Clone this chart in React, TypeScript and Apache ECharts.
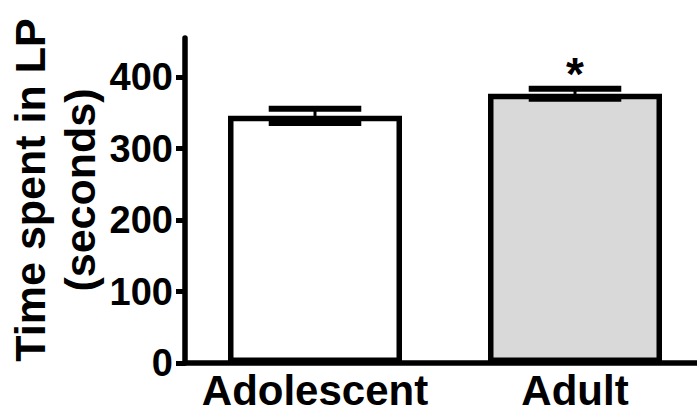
import React, { useEffect, useRef } from "react";
import * as echarts from "echarts";

const categories = ["Adolescent", "Adult"];
const means = [346, 377];
const sems = [10, 7];
const annotations = ["", "*"];
const barColors = ["#ffffff", "#d9d9d9"];
const yTicks = [0, 100, 200, 300, 400];
const yMax = 455;
const yTitle = "Time spent in LP\n(seconds)";

const FONT = "'Liberation Sans', Arial, Helvetica, sans-serif";

export default function App() {
  const ref = useRef<HTMLDivElement>(null);
  useEffect(() => {
    if (!ref.current) return;
    const chart = echarts.init(ref.current, null, { renderer: "svg" });
    const errData = categories.map((_, i) => [i, means[i] - sems[i], means[i] + sems[i]]);
    chart.setOption({
      animation: false,
      backgroundColor: "#ffffff",
      grid: { left: 185, right: 15, top: 38, bottom: 50, containLabel: false },
      xAxis: {
        type: "category",
        data: categories,
        axisLine: { show: true, lineStyle: { color: "#000", width: 5.5 } },
        axisTick: { show: false },
        axisLabel: {
          interval: 0,
          color: "#000",
          fontFamily: FONT,
          fontWeight: "bold",
          fontSize: 42,
          margin: 6,
        },
      },
      yAxis: {
        type: "value",
        min: 0,
        max: yMax,
        interval: 100,
        splitLine: { show: false },
        axisLine: { show: true, lineStyle: { color: "#000", width: 5.5 } },
        axisTick: {
          show: true,
          length: 9,
          lineStyle: { color: "#000", width: 5 },
          customValues: yTicks,
        },
        axisLabel: {
          color: "#000",
          fontFamily: FONT,
          fontWeight: "bold",
          fontSize: 38,
          margin: 12,
          customValues: yTicks,
        },
      },
      graphic: [
        {
          type: "text",
          x: 55,
          y: 190,
          rotation: Math.PI / 2,
          style: {
            text: yTitle,
            align: "center",
            verticalAlign: "middle",
            fontFamily: FONT,
            fontWeight: "bold",
            fontSize: 43,
            lineHeight: 50,
            fill: "#000",
          },
        },
      ],
      series: [
        {
          type: "bar",
          barWidth: 174,
          data: means.map((v, i) => ({
            value: v,
            itemStyle: { color: barColors[i] },
          })),
          itemStyle: { borderColor: "#000", borderWidth: 5.5 },
          z: 2,
        },
        {
          type: "custom",
          z: 3,
          data: errData,
          renderItem: (params: any, api: any) => {
            const idx = api.value(0);
            const lo = api.coord([idx, api.value(1)]);
            const hi = api.coord([idx, api.value(2)]);
            const hw = api.size([1, 0])[0] * 0.178;
            const label = annotations[params.dataIndex];
            const children: any[] = [
              {
                type: "line",
                shape: { x1: hi[0], y1: hi[1], x2: lo[0], y2: lo[1] },
                style: { stroke: "#000", lineWidth: 3 },
              },
              {
                type: "line",
                shape: { x1: hi[0] - hw, y1: hi[1], x2: hi[0] + hw, y2: hi[1] },
                style: { stroke: "#000", lineWidth: 6 },
              },
              {
                type: "line",
                shape: { x1: lo[0] - hw, y1: lo[1], x2: lo[0] + hw, y2: lo[1] },
                style: { stroke: "#000", lineWidth: 6 },
              },
            ];
            if (label) {
              children.push({
                type: "text",
                x: hi[0],
                y: hi[1] + 8,
                style: {
                  text: label,
                  align: "center",
                  verticalAlign: "bottom",
                  fontFamily: FONT,
                  fontWeight: "bold",
                  fontSize: 46,
                  fill: "#000",
                },
              });
            }
            return { type: "group", children };
          },
        },
      ],
    });
    return () => chart.dispose();
  }, []);
  return (
    <div style={{ position: "fixed", left: 0, top: 0, width: 697, height: 413, overflow: "hidden", background: "#fff" }}>
      <div ref={ref} style={{ width: 720, height: 413 }} />
    </div>
  );
}
